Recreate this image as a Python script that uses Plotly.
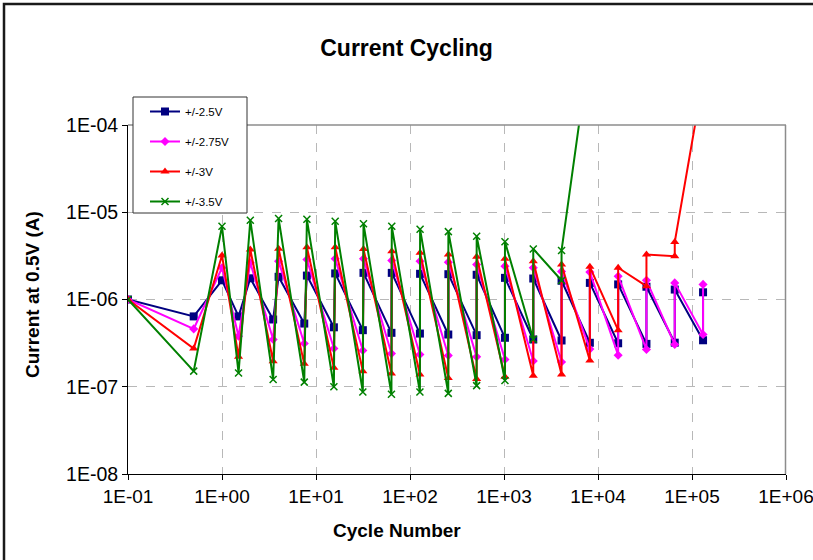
import plotly.graph_objects as go

# ---------------- data ----------------
cycles = [0.1, 0.5, 1, 1.5, 2, 3.5, 4, 7.5, 8, 15.5, 16, 31.5, 32, 63.5, 64,
          127.5, 128, 255.5, 256, 511.5, 512, 1023.5, 1024, 2047.5, 2048,
          4095.5, 4096, 8191.5, 8192, 16383.5, 16384, 32767.5, 32768,
          65535.5, 65536, 131071.5, 131072]

i_25 = [1.0e-6, 6.4e-7, 1.66e-6, 6.4e-7, 1.75e-6, 5.9e-7, 1.82e-6, 5.3e-7, 1.88e-6,
        4.8e-7, 1.99e-6, 4.45e-7, 2.02e-6, 4.15e-7, 2.02e-6, 4.07e-7, 1.97e-6,
        3.97e-7, 1.95e-6, 3.9e-7, 1.92e-6, 3.64e-7, 1.77e-6, 3.48e-7, 1.74e-6,
        3.39e-7, 1.64e-6, 3.19e-7, 1.55e-6, 3.15e-7, 1.49e-6, 3.1e-7, 1.4e-6,
        3.2e-7, 1.3e-6, 3.41e-7, 1.21e-6]

i_275 = [1.0e-6, 4.6e-7, 2.31e-6, 3.8e-7, 2.64e-6, 3.48e-7, 2.75e-6, 3.13e-7, 2.87e-6,
         2.74e-7, 2.93e-6, 2.6e-7, 2.93e-6, 2.4e-7, 2.8e-6, 2.34e-7, 2.75e-6,
         2.28e-7, 2.68e-6, 2.2e-7, 2.52e-6, 2.05e-7, 2.41e-6, 1.97e-7, 2.31e-6,
         1.92e-7, 2.1e-6, 2.7e-7, 2.06e-6, 2.3e-7, 1.85e-6, 2.67e-7, 1.66e-6,
         3.05e-7, 1.55e-6, 3.97e-7, 1.49e-6]

i_3 = [1.0e-6, 2.74e-7, 3.2e-6, 2.2e-7, 3.74e-6, 1.96e-7, 3.81e-6, 1.83e-7, 3.98e-6,
       1.65e-7, 3.98e-6, 1.51e-7, 3.8e-6, 1.42e-7, 3.58e-6, 1.38e-7, 3.43e-6,
       1.26e-7, 3.28e-6, 1.23e-7, 3.09e-6, 1.3e-7, 2.93e-6, 1.34e-7, 2.75e-6,
       1.38e-7, 2.52e-6, 2.0e-7, 2.37e-6, 4.45e-7, 2.31e-6, 1.42e-6, 3.28e-6,
       3.14e-6, 4.55e-6, 3.3e-4, 3.4e-4]

i_35 = [1.0e-6, 1.51e-7, 6.9e-6, 1.44e-7, 8.1e-6, 1.21e-7, 8.5e-6, 1.13e-7, 8.3e-6,
        1.0e-7, 7.9e-6, 8.7e-8, 7.4e-6, 8.2e-8, 6.9e-6, 8.7e-8, 6.4e-6,
        8.4e-8, 6.0e-6, 1.03e-7, 5.3e-6, 1.18e-7, 4.6e-6, 3.5e-7, 3.8e-6,
        1.65e-6, 3.65e-6, 8.0e-4, None, None, None, None, None,
        None, None, None, None]

series_names = ["+/-2.5V", "+/-2.75V", "+/-3V", "+/-3.5V"]

x_tick_vals = [1e-1, 1e0, 1e1, 1e2, 1e3, 1e4, 1e5, 1e6]
x_tick_text = ["1E-01", "1E+00", "1E+01", "1E+02", "1E+03", "1E+04", "1E+05", "1E+06"]
y_tick_vals = [1e-8, 1e-7, 1e-6, 1e-5, 1e-4]
y_tick_text = ["1E-08", "1E-07", "1E-06", "1E-05", "1E-04"]

# ---------------- figure ----------------
FONT = "Arial, 'Liberation Sans', sans-serif"

styles = [
    dict(color="#000080", symbol="square", size=8),
    dict(color="#FF00FF", symbol="diamond", size=7),
    dict(color="#FF0000", symbol="triangle-up", size=8),
    dict(color="#008000", symbol="x-thin", size=7),
]

fig = go.Figure()
for name, ys, st in zip(series_names, [i_25, i_275, i_3, i_35], styles):
    marker = dict(symbol=st["symbol"], size=st["size"], color=st["color"])
    if st["symbol"] == "x-thin":
        marker["line"] = dict(color=st["color"], width=1.5)
    else:
        marker["line"] = dict(width=0)
    fig.add_trace(go.Scatter(
        x=cycles, y=ys, name=name, mode="lines+markers",
        line=dict(color=st["color"], width=2),
        marker=marker, legendgroup=name,
    ))

L, R, T, B = 128, 27, 125, 86
W, H = 813, 560
pw, ph = W - L - R, H - T - B

def px_x(px):
    return (px - L) / pw

def px_y(py):
    return (H - B - py) / ph

fig.update_layout(
    width=W, height=H,
    margin=dict(l=L, r=R, t=T, b=B, pad=0, autoexpand=False),
    paper_bgcolor="white", plot_bgcolor="white",
    font=dict(family=FONT, color="black"),
    title=dict(text="<b>Current Cycling</b>", x=0.5, xref="container", xanchor="center",
               y=1 - 48 / H, yref="container", yanchor="middle",
               font=dict(size=23, family=FONT, color="black")),
    showlegend=True,
    legend=dict(x=px_x(145), y=px_y(97), xanchor="left", yanchor="top",
                bgcolor="rgba(0,0,0,0)", borderwidth=0,
                font=dict(size=11.5, family=FONT, color="black"),
                tracegroupgap=11, itemwidth=30, traceorder="grouped"),
)

fig.update_xaxes(
    type="log", range=[-1, 6], tickvals=x_tick_vals, ticktext=x_tick_text,
    showline=True, linecolor="black", linewidth=1, mirror=False,
    ticks="outside", ticklen=5, tickcolor="black", automargin=False,
    ticklabeloverflow="allow",
    showgrid=True, gridcolor="#b8b8b8", griddash="dash", gridwidth=1,
    tickfont=dict(size=19, family=FONT, color="black"), zeroline=False,
)
fig.update_yaxes(
    type="log", range=[-8, -4], tickvals=y_tick_vals, ticktext=y_tick_text,
    showline=True, linecolor="black", linewidth=1, mirror=False,
    ticks="outside", ticklen=5, tickcolor="black", automargin=False,
    ticklabeloverflow="allow",
    showgrid=True, gridcolor="#b8b8b8", griddash="dash", gridwidth=1,
    tickfont=dict(size=19.5, family=FONT, color="black"), zeroline=False,
)

# axis titles
fig.add_annotation(text="<b>Cycle Number</b>", xref="paper", yref="paper",
                   x=px_x(397), y=px_y(530), showarrow=False,
                   xanchor="center", yanchor="middle",
                   font=dict(size=19, family=FONT, color="black"))
fig.add_annotation(text="<b>Current at 0.5V (A)</b>", xref="paper", yref="paper",
                   x=px_x(32), y=px_y(295), showarrow=False, textangle=-90,
                   xanchor="center", yanchor="middle",
                   font=dict(size=19, family=FONT, color="black"))

# plot-area top/right border (gray) and outer chart frame
fig.add_shape(type="line", xref="paper", yref="paper", x0=0, x1=px_x(786), y0=1, y1=1,
              line=dict(color="#8c8c8c", width=1.5))
fig.add_shape(type="line", xref="paper", yref="paper",
              x0=px_x(785.5), x1=px_x(785.5), y0=0, y1=1,
              line=dict(color="#8c8c8c", width=1.5))
fig.add_shape(type="rect", xref="paper", yref="paper",
              x0=px_x(4), x1=px_x(830), y0=px_y(580), y1=px_y(4),
              line=dict(color="#1a1a1a", width=2.5), fillcolor="rgba(0,0,0,0)")
# legend box
fig.add_shape(type="rect", xref="paper", yref="paper", layer="above",
              x0=px_x(133), x1=px_x(247), y0=px_y(213), y1=px_y(97),
              line=dict(color="#333333", width=1), fillcolor="white")

fig.write_html("out.html")
